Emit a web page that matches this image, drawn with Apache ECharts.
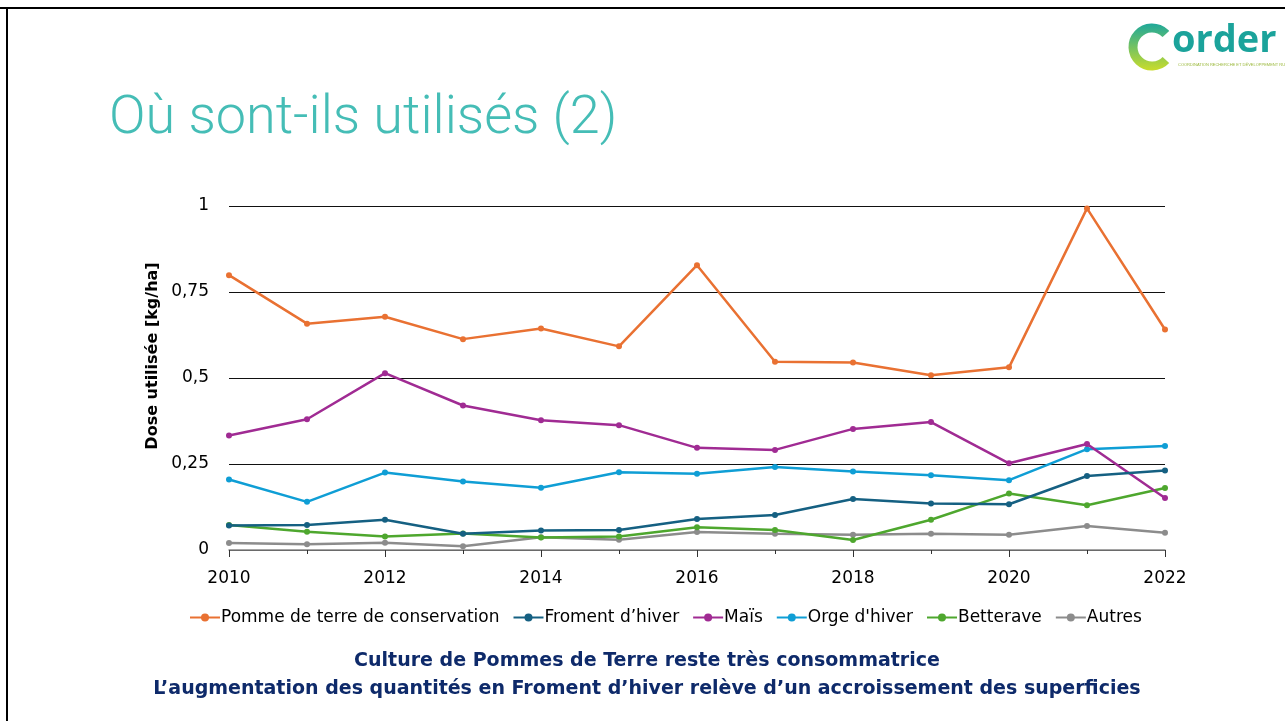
<!DOCTYPE html>
<html><head><meta charset="utf-8">
<script src="https://cdn.jsdelivr.net/npm/echarts@6/dist/echarts.min.js"></script>
<style>html,body{margin:0;padding:0;background:#fff;}#c{width:1285px;height:721px;}</style>
</head><body><div id="c"></div>
<script>
const years = [2010,2011,2012,2013,2014,2015,2016,2017,2018,2019,2020,2021,2022];
const pommeDeTerre = [0.799,0.658,0.678,0.613,0.644,0.592,0.828,0.547,0.545,0.508,0.531,0.993,0.641];
const froment = [0.071,0.073,0.088,0.047,0.057,0.058,0.090,0.102,0.148,0.135,0.133,0.215,0.231];
const mais = [0.333,0.380,0.514,0.420,0.377,0.363,0.297,0.291,0.352,0.372,0.252,0.308,0.151];
const orge = [0.205,0.140,0.225,0.199,0.181,0.226,0.222,0.241,0.228,0.217,0.203,0.293,0.302];
const betterave = [0.073,0.053,0.039,0.048,0.036,0.039,0.066,0.058,0.029,0.088,0.164,0.130,0.180];
const autres = [0.020,0.017,0.021,0.011,0.037,0.030,0.052,0.047,0.044,0.047,0.044,0.070,0.050];
const seriesNames = ["Pomme de terre de conservation","Froment d\u2019hiver","Maïs","Orge d'hiver","Betterave","Autres"];
const seriesValues = [pommeDeTerre, froment, mais, orge, betterave, autres];
const colors = ["#E97132","#156082","#A02B93","#0F9ED5","#4EA72E","#8C8C8C"];
const caption1 = 'Culture de Pommes de Terre reste très consommatrice';
const caption2 = 'L\u2019augmentation des quantités en Froment d\u2019hiver relève d\u2019un accroissement des superficies';
const yName = 'Dose utilisée [kg/ha]';

const chart = echarts.init(document.getElementById('c'), null, {renderer:'canvas'});
const font = "'DejaVu Sans', sans-serif";
chart.setOption({
  backgroundColor:'#fff',
  animation:false,
  color: colors,
  title:[
    {text:'Où sont-ils utilisés (2)', left:104, top:87,
     textStyle:{fontFamily:"Roboto", fontWeight:300, fontSize:54, color:'#45BDB6'}}
  ],
  graphic:[
    {type:'line', shape:{x1:0,y1:8,x2:1285,y2:8}, style:{stroke:'#000', lineWidth:2}},
    {type:'line', shape:{x1:7,y1:8,x2:7,y2:721}, style:{stroke:'#000', lineWidth:2}},
    {type:'arc', shape:{cx:1152, cy:47, r:19, startAngle:0.75, endAngle:-0.75+2*Math.PI, clockwise:true},
     style:{stroke:new echarts.graphic.LinearGradient(0,0,0,1,[{offset:0,color:'#1FA89A'},{offset:1,color:'#C9DC2B'}]), lineWidth:9, fill:null}},
    {type:'text', x:1172, y:22, style:{text:'order', font:"bold 38px 'Open Sans', sans-serif", fill:'#1BA39B'}},
    {type:'text', x:1178, y:63, style:{text:'COORDINATION RECHERCHE ET DÉVELOPPEMENT RURAL', font:"4px sans-serif", fill:'#9AB83A'}},
    {type:'text', x:647, y:661, style:{text:caption1, font:"bold 19px 'DejaVu Sans', sans-serif", fill:'#0E2A6A', align:'center', verticalAlign:'middle'}},
    {type:'text', x:647, y:689, style:{text:caption2, font:"bold 19px 'DejaVu Sans', sans-serif", fill:'#0E2A6A', align:'center', verticalAlign:'middle'}},
    {type:'text', x:153, y:356, rotation:Math.PI/2, style:{text:yName, font:"bold 16px 'DejaVu Sans', sans-serif", fill:'#000', align:'center', verticalAlign:'middle'}}
  ],
  legend:{
    data: seriesNames, left:184, top:604, itemGap:13, itemWidth:30, itemHeight:10,
    textStyle:{fontFamily:font, fontSize:17, color:'#000', padding:[0,0,0,-4]}
  },
  grid:{left:229, right:120, top:206, bottom:171},
  xAxis:{
    type:'value', min:2010, max:2022, interval:2,
    axisLine:{show:true, lineStyle:{color:'#888', width:1.5}},
    axisTick:{show:true, length:7, lineStyle:{color:'#333'}},
    minorTick:{show:true, splitNumber:2, length:4, lineStyle:{color:'#333'}},
    splitLine:{show:false},
    axisLabel:{fontFamily:font, fontSize:17, color:'#000', margin:20, formatter:v=>String(v)}
  },
  yAxis:{
    type:'value', min:0, max:1, interval:0.25,
    axisLine:{show:false}, axisTick:{show:false},
    splitLine:{lineStyle:{color:'#111', width:1}},
    axisLabel:{fontFamily:font, fontSize:17, color:'#000', margin:20, formatter:v=>String(v).replace('.',',')}
  },
  series: seriesNames.map((n,k)=>({
    name:n, type:'line', data: years.map((y,i)=>[y, seriesValues[k][i]]),
    symbol:'circle', symbolSize:6, lineStyle:{width:2.5}, itemStyle:{color:colors[k]}, z: 10 - k
  }))
});
</script></body></html>
